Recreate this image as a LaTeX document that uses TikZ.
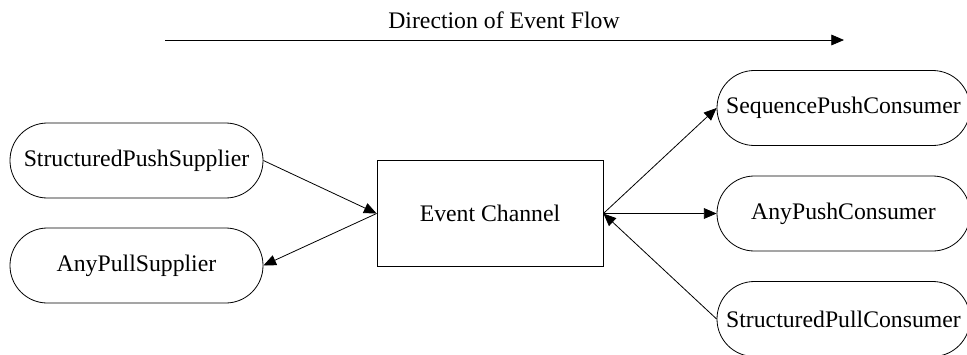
\documentclass[tikz,border=0pt]{standalone}
\usepackage{fontspec}
\setmainfont{Liberation Serif}
\usetikzlibrary{arrows.meta}
\begin{document}
\begin{tikzpicture}[x=0.75pt,y=-0.75pt,
  every node/.style={font=\fontsize{17.8}{20}\selectfont, inner sep=0pt},
  pill/.style={draw, line width=0.6pt, rounded corners=28pt, minimum width=189.75pt, minimum height=56.25pt},
  chan/.style={draw, line width=0.6pt, minimum width=169.5pt, minimum height=79.5pt},
  conn/.style={line width=0.6pt, -{Triangle[length=9.5pt,width=8pt]}}]
\useasboundingbox (0,0) rectangle (967,354);
\clip (0,0) rectangle (967,354);
\node (title) at (504,20) {Direction of Event Flow};
\coordinate (fa) at (165,40);
\coordinate (fb) at (844,40);
\draw[conn] (fa) -- (fb);
\node[pill] (sps) at (136.5,160.5) {StructuredPushSupplier};
\node[pill] (aps) at (136.5,265.5) {AnyPullSupplier};
\node[chan] (ec) at (490,213.5) {Event Channel};
\node[pill] (spc) at (843.5,108) {SequencePushConsumer};
\node[pill] (apc) at (843.5,213.5) {AnyPushConsumer};
\node[pill] (stpc) at (843.5,319) {StructuredPullConsumer};
\draw[conn] (sps.east) -- (ec.west);
\draw[conn] (ec.west) -- (aps.east);
\draw[conn] (ec.east) -- (spc.west);
\draw[conn] (ec.east) -- (apc.west);
\draw[conn] (stpc.west) -- (ec.east);
\end{tikzpicture}
\end{document}
